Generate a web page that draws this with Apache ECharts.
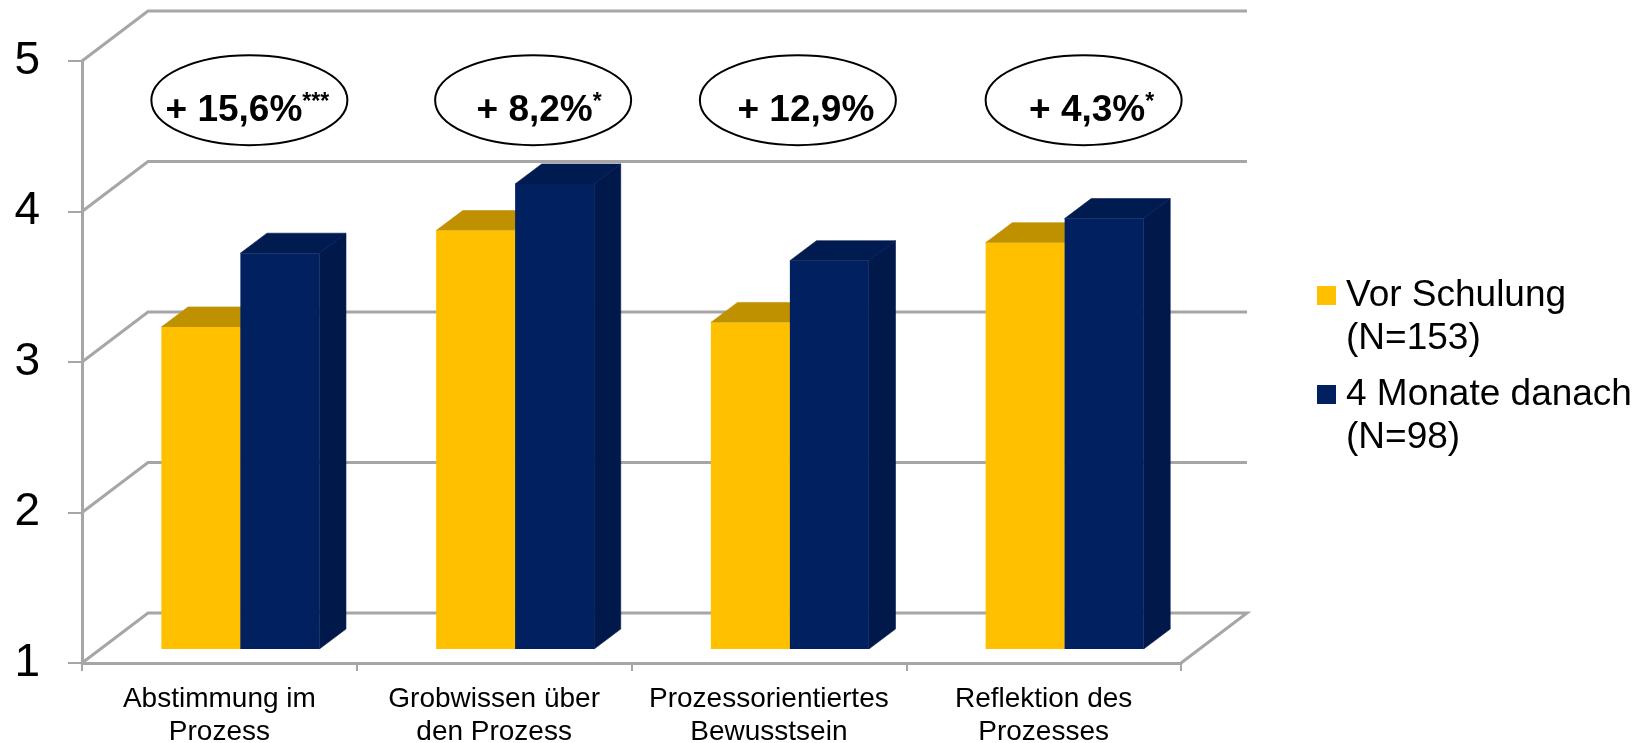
<!DOCTYPE html>
<html>
<head>
<meta charset="utf-8">
<style>
  html, body { margin: 0; padding: 0; background: #fff; }
  #chart { width: 1648px; height: 743px; }
</style>
</head>
<body>
<div id="chart"></div>
<script src="https://cdn.jsdelivr.net/npm/echarts@6/dist/echarts.min.js"></script>
<script>
const categories = ['Abstimmung im\nProzess', 'Grobwissen über\nden Prozess', 'Prozessorientiertes\nBewusstsein', 'Reflektion des\nProzesses'];
const vorSchulung = [3.14, 3.78, 3.17, 3.70];
const monateDanach = [3.63, 4.09, 3.58, 3.86];
const yTicks = [1, 2, 3, 4, 5];
const changeLabels = ['+ 15,6%', '+ 8,2%', '+ 12,9%', '+ 4,3%'];
const changeStars = ['***', '*', '', '*'];

// pseudo 3d layout, px
const wallDx = 66, wallDy = -50;
const barDx = 21, barDy = -14;
const sideDx = 26.6, sideDy = -20;
const barW = 79;
const gridCol = '#a6a6a6';
const ellipseValue = 4.74;
const ellipseShift = [30, 39, 29, 40];
const labelShift = [-2, 6, 8, 8];

const toPts = (data) => data.map((v, i) => [i, v]);

// one pseudo 3d bar: front + top + side
function barItem(front, top, side, dir) {
  return function (params, api) {
    const c = api.coord([api.value(0), api.value(1)]);
    const b = api.coord([api.value(0), yTicks[0]]);
    const x0 = c[0] + barDx + (dir < 0 ? -barW : 0);
    const x1 = x0 + barW;
    const yt = c[1] + barDy;
    const yb = b[1] + barDy;
    return {
      type: 'group',
      children: [
        { type: 'polygon', shape: { points: [[x1, yt], [x1 + sideDx, yt + sideDy], [x1 + sideDx, yb + sideDy], [x1, yb]] }, style: { fill: side, stroke: side, lineWidth: 0.6 } },
        { type: 'polygon', shape: { points: [[x0, yt], [x0 + sideDx, yt + sideDy], [x1 + sideDx, yt + sideDy], [x1, yt]] }, style: { fill: top, stroke: top, lineWidth: 0.6 } },
        { type: 'rect', shape: { x: x0, y: yt, width: barW, height: yb - yt }, style: { fill: front } }
      ]
    };
  };
}

// gridlines running over the side wall and the back wall
function wallItem(params, api) {
  const y = api.coord([0, api.value(0)])[1];
  const left = params.coordSys.x;
  const right = left + params.coordSys.width;
  const pts = [[left, y], [left + wallDx, y + wallDy], [right + wallDx, y + wallDy]];
  if (api.value(0) === yTicks[0]) pts.push([right, y]);
  return {
    type: 'polyline',
    shape: { points: pts },
    style: { fill: 'none', stroke: gridCol, lineWidth: 3 }
  };
}

function ellipseItem(params, api) {
  const i = api.value(0);
  const c = api.coord([i, ellipseValue]);
  return {
    type: 'group',
    children: [
      { type: 'ellipse', shape: { cx: c[0] + ellipseShift[i], cy: c[1], rx: 98, ry: 45 }, style: { fill: '#fff', stroke: '#000', lineWidth: 2 } },
      {
        type: 'text',
        style: {
          x: c[0] + ellipseShift[i] + labelShift[i],
          y: c[1] + 11,
          align: 'center',
          verticalAlign: 'middle',
          text: '{b|' + changeLabels[i] + '}' + (changeStars[i] ? '{s|' + changeStars[i] + '}' : ''),
          rich: {
            b: { fontFamily: 'Liberation Sans', fontWeight: 'bold', fontSize: 37, fill: '#000', lineHeight: 40 },
            s: { fontFamily: 'Liberation Sans', fontWeight: 'bold', fontSize: 23, fill: '#000', verticalAlign: 'top', lineHeight: 40 }
          }
        }
      }
    ]
  };
}

const myChart = echarts.init(document.getElementById('chart'));
const option = {
  animation: false,
  backgroundColor: '#fff',
  grid: { left: 82, top: 61, width: 1099, height: 602, outerBoundsMode: 'none' },
  legend: {
    data: ['Vor Schulung\n(N=153)', '4 Monate danach\n(N=98)'],
    orient: 'vertical',
    left: 1312,
    top: 226,
    itemWidth: 24,
    itemHeight: 19,
    itemGap: -30,
    // blank first line + empty tail on the icon: swatch sits next to the first text line
    icon: 'path://M0 0H19V19H0ZM24 0L24 0',
    selectedMode: false,
    formatter: (name) => '\n' + name,
    textStyle: { fontFamily: 'Liberation Sans', fontSize: 37, color: '#000', lineHeight: 43 }
  },
  xAxis: {
    type: 'category',
    data: categories,
    axisLine: { lineStyle: { color: gridCol, width: 3 } },
    axisTick: { show: true, length: 8, lineStyle: { color: gridCol, width: 2 } },
    axisLabel: { fontFamily: 'Liberation Sans', fontSize: 28, color: '#000', lineHeight: 33, margin: 20, interval: 0 }
  },
  yAxis: {
    type: 'value',
    min: 1,
    max: 5,
    interval: 1,
    splitLine: { show: false },
    axisLine: { show: true, lineStyle: { color: gridCol, width: 3 } },
    axisTick: { show: true, length: 14, lineStyle: { color: gridCol, width: 2 } },
    axisLabel: { fontFamily: 'Liberation Sans', fontSize: 46, color: '#000', margin: 42, padding: [10, 0, 0, 0] }
  },
  series: [
    { type: 'custom', name: 'wall', silent: true, z: 1, clip: false, data: yTicks.map((v) => [v]), encode: { y: 0 }, renderItem: wallItem },
    { type: 'custom', name: 'Vor Schulung\n(N=153)', z: 2, clip: false, itemStyle: { color: '#ffc000' }, data: toPts(vorSchulung), encode: { x: 0, y: 1 }, renderItem: barItem('#ffc000', '#bf9000', '#bf9000', -1) },
    { type: 'custom', name: '4 Monate danach\n(N=98)', z: 3, clip: false, itemStyle: { color: '#002060' }, data: toPts(monateDanach), encode: { x: 0, y: 1 }, renderItem: barItem('#002060', '#001b50', '#00184a', 1) },
    { type: 'custom', name: 'change', silent: true, z: 4, clip: false, data: changeLabels.map((v, i) => [i]), encode: { x: 0 }, renderItem: ellipseItem }
  ]
};
myChart.setOption(option);
</script>
</body>
</html>
